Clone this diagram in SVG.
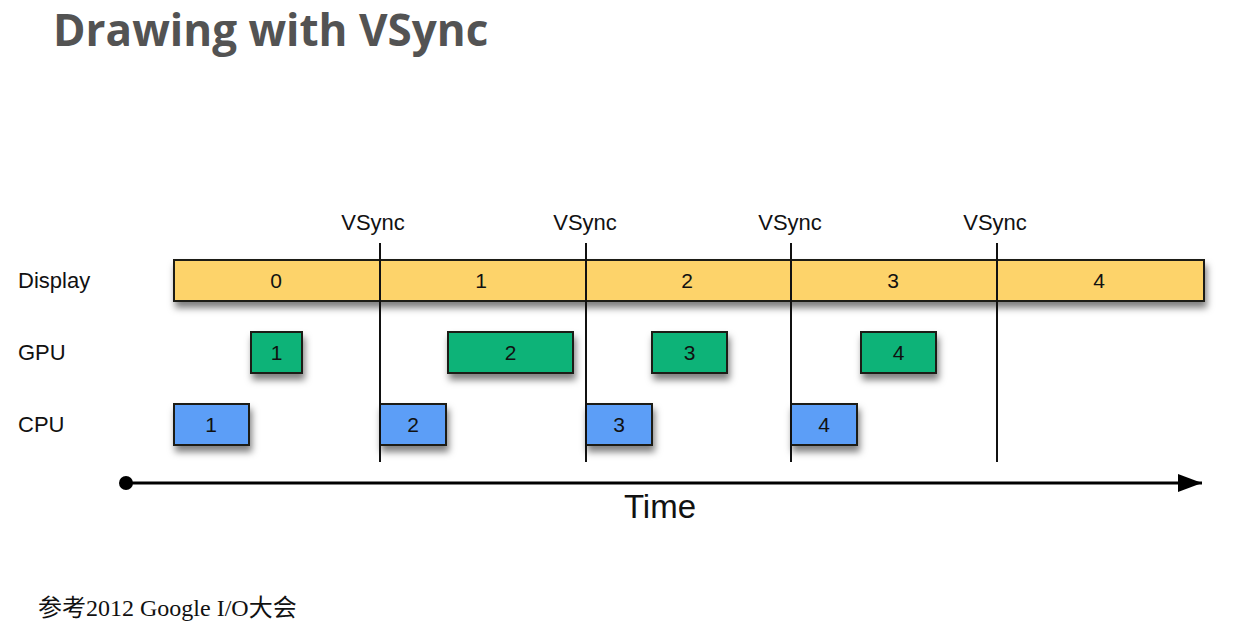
<svg xmlns="http://www.w3.org/2000/svg" width="1240" height="632" viewBox="0 0 1240 632">
<defs>
<filter id="sh" x="-20%" y="-40%" width="140%" height="200%">
<feDropShadow dx="2" dy="6" stdDeviation="3.5" flood-color="#000" flood-opacity="0.5"/>
</filter>
<marker id="arr" markerWidth="24" markerHeight="18" refX="24" refY="9" orient="auto" markerUnits="userSpaceOnUse">
<path d="M0,0 L24,9 L0,18 Z" fill="#000"/>
</marker>
</defs>
<style>
.t{font-family:"Liberation Sans",Arial,sans-serif;fill:#111;}
.lbl{font-size:22px;}
.num{font-size:21px;text-anchor:middle;}
.box{stroke:#1e1e14;stroke-width:2;filter:url(#sh);}
.disp{fill:#FDD36B;}
.gpu{fill:#10B378;}
.cpu{fill:#5B9EF7;}
.vs{stroke:#111;stroke-width:2;}
</style>
<rect width="1240" height="632" fill="#fff"/>
<text x="53" y="46" font-family="'Open Sans',sans-serif" font-weight="bold" font-size="44" fill="#535353">Drawing with VSync</text>

<g id="labels">
<text class="t lbl" x="18" y="288">Display</text>
<text class="t lbl" x="18" y="360">GPU</text>
<text class="t lbl" x="18" y="432">CPU</text>
</g>

<g id="display">
<rect class="box disp" x="174" y="260" width="1030" height="41"/>
<text class="t num" x="276" y="288">0</text>
<text class="t num" x="481" y="288">1</text>
<text class="t num" x="687" y="288">2</text>
<text class="t num" x="893" y="288">3</text>
<text class="t num" x="1099" y="288">4</text>
</g>

<g id="gpu1"><rect class="box gpu" x="251" y="332" width="51" height="41"/><text class="t num" x="276.5" y="360">1</text></g>
<g id="gpu2"><rect class="box gpu" x="448" y="332" width="125" height="41"/><text class="t num" x="510.5" y="360">2</text></g>
<g id="gpu3"><rect class="box gpu" x="652" y="332" width="75" height="41"/><text class="t num" x="689.5" y="360">3</text></g>
<g id="gpu4"><rect class="box gpu" x="861" y="332" width="75" height="41"/><text class="t num" x="898.5" y="360">4</text></g>

<g id="cpu1"><rect class="box cpu" x="174" y="404" width="75" height="41"/><text class="t num" x="211" y="432">1</text></g>
<g id="cpu2"><rect class="box cpu" x="380" y="404" width="66" height="41"/><text class="t num" x="413" y="432">2</text></g>
<g id="cpu3"><rect class="box cpu" x="586" y="404" width="66" height="41"/><text class="t num" x="619" y="432">3</text></g>
<g id="cpu4"><rect class="box cpu" x="791" y="404" width="66" height="41"/><text class="t num" x="824" y="432">4</text></g>

<g id="vsync">
<line class="vs" x1="380" y1="243" x2="380" y2="462"/>
<line class="vs" x1="586" y1="243" x2="586" y2="462"/>
<line class="vs" x1="791" y1="243" x2="791" y2="462"/>
<line class="vs" x1="997" y1="243" x2="997" y2="462"/>
<text class="t lbl" x="373" y="230" text-anchor="middle">VSync</text>
<text class="t lbl" x="585" y="230" text-anchor="middle">VSync</text>
<text class="t lbl" x="790" y="230" text-anchor="middle">VSync</text>
<text class="t lbl" x="995" y="230" text-anchor="middle">VSync</text>
</g>

<g id="timeline">
<circle cx="126" cy="483" r="7" fill="#000"/>
<line x1="126" y1="483" x2="1202" y2="483" stroke="#000" stroke-width="3" marker-end="url(#arr)"/>
<text class="t" x="660" y="518" font-size="33" text-anchor="middle">Time</text>
</g>

<text x="38" y="616" font-family="'Liberation Serif','Noto Sans CJK SC',serif" font-size="24" fill="#111">参考2012 Google I/O大会</text>
</svg>
